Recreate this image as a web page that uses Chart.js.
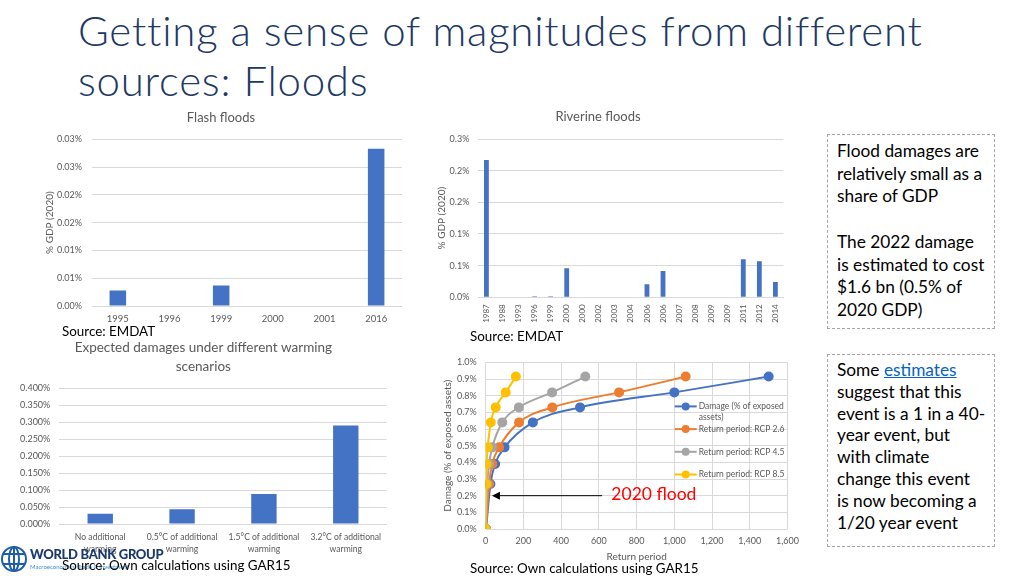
<!DOCTYPE html>
<html>
<head>
<meta charset="utf-8">
<script src="https://cdn.jsdelivr.net/npm/chart.js@4.4.0/dist/chart.umd.min.js"></script>
<style>
  body { margin: 0; background: #fff; }
  #slide { position: relative; width: 1024px; height: 576px; overflow: hidden; font-family: Lato, sans-serif; }
  canvas { position: absolute; }
  .title { position: absolute; left: 78px; top: 5px; font-size: 42px; line-height: 50px; font-weight: 300; letter-spacing: 0.75px; font-variant-ligatures: none; color: #203864; white-space: nowrap; }
  .src { position: absolute; font-size: 13.4px; color: #000; white-space: nowrap; line-height: 16px; }
  .box { position: absolute; left: 827px; width: 168px; border: 1px dashed #A6A6A6; font-size: 17.3px; color: #000; white-space: nowrap; box-sizing: border-box; padding-left: 9px; }
  .box a { color: #0563C1; text-decoration: underline; }
  .logo { position: absolute; left: 0; top: 543px; }
  .logo .wb { position: absolute; left: 30px; top: 3px; font-size: 13px; font-weight: 900; color: #1b3a6b; white-space: nowrap; letter-spacing: -0.3px; }
  .logo .sub { position: absolute; left: 30px; top: 20px; font-size: 6px; color: #3d8fd6; white-space: nowrap; }
</style>
</head>
<body>
<div id="slide">
  <div class="title">Getting a sense of magnitudes from different<br>sources: Floods</div>

  <canvas id="flash" width="362" height="228" style="left:40px; top:105px;"></canvas>
  <canvas id="riverine" width="388" height="222" style="left:404px; top:105px;"></canvas>
  <canvas id="scenario" width="372" height="220" style="left:20px; top:338px;"></canvas>
  <canvas id="returns" width="370" height="215" style="left:436px; top:348px;"></canvas>

  <div class="src" style="left:62px; top:323px;">Source: EMDAT</div>
  <div class="src" style="left:470px; top:328px;">Source: EMDAT</div>

  <div class="logo">
    <svg width="30" height="32" viewBox="0 0 30 32">
      <g fill="none" stroke="#1f5faa" stroke-width="2">
        <circle cx="14" cy="16" r="12"/>
        <ellipse cx="14" cy="16" rx="5" ry="12"/>
        <path d="M3 11 H25 M3 21 H25 M14 4 V28"/>
      </g>
    </svg>
    <div class="wb">WORLD BANK GROUP</div>
    <div class="sub">Macroeconomics, Trade &amp; Investment</div>
  </div>
  <div class="src" style="left:62px; top:557px;">Source: Own calculations using GAR15</div>
  <div class="src" style="left:470px; top:560px;">Source: Own calculations using GAR15</div>

  <div class="box" style="top:134px; height:195px; padding-top:5px; line-height:22.7px;">
    Flood damages are<br>relatively small as a<br>share of GDP<br><br>The 2022 damage<br>is estimated to cost<br>$1.6 bn (0.5% of<br>2020 GDP)
  </div>
  <div class="box" style="top:354px; height:193px; padding-top:4px; line-height:21.8px;">
    Some <a>estimates</a><br>suggest that this<br>event is a 1 in a 40-<br>year event, but<br>with climate<br>change this event<br>is now becoming a<br>1/20 year event
  </div>
</div>

<script>
// flash floods (EMDAT), % of 2020 GDP
const flashYears = ['1995', '1996', '1999', '2000', '2001', '2016'];
const flashDamage = [0.0028, 0, 0.0037, 0, 0, 0.0283];
const flashTicks = ['0.00%', '0.01%', '0.01%', '0.02%', '0.02%', '0.03%', '0.03%'];

// riverine floods (EMDAT), % of 2020 GDP
const riverineYears = ['1987', '1988', '1993', '1996', '1999', '2000', '2000', '2002', '2003', '2004',
  '2006', '2006', '2007', '2008', '2009', '2009', '2011', '2012', '2014'];
const riverineDamage = [0.217, 0, 0, 0.0015, 0.0015, 0.046, 0, 0, 0, 0,
  0.0205, 0.0415, 0, 0, 0, 0, 0.060, 0.057, 0.024];
const riverineTicks = ['0.0%', '0.1%', '0.1%', '0.2%', '0.2%', '0.3%'];

// expected damages by warming scenario, % of GDP
const scenarioLabels = [['No additional', 'warming'], ['0.5°C of additional', 'warming'],
  ['1.5°C of additional', 'warming'], ['3.2°C of additional', 'warming']];
const scenarioDamage = [0.0303, 0.0432, 0.0882, 0.290];

// damage (% of exposed assets) vs return period
const damageLevels = [0, 0.27, 0.39, 0.49, 0.64, 0.73, 0.82, 0.915];
const rpBase = [2, 25, 50, 100, 250, 500, 1000, 1500];
const rpRcp26 = [1, 18, 35, 71, 177, 353, 707, 1060];
const rpRcp45 = [1, 9, 18, 35, 88, 176, 352, 528];
const rpRcp85 = [0, 3, 5, 11, 27, 53, 106, 160];

const BLUE = '#4472C4';
const GRID = '#D9D9D9';
const TXT = '#595959';

Chart.defaults.font.family = 'Lato, sans-serif';
Chart.defaults.color = TXT;
Chart.defaults.animation = false;
Chart.defaults.responsive = false;
Chart.defaults.plugins.legend.display = false;
Chart.defaults.plugins.tooltip.enabled = false;

new Chart(document.getElementById('flash'), {
  type: 'bar',
  data: {
    labels: flashYears,
    datasets: [{ data: flashDamage, backgroundColor: BLUE, categoryPercentage: 1, barPercentage: 0.32 }]
  },
  options: {
    plugins: {
      title: { display: true, text: 'Flash floods', color: TXT, font: { size: 13, weight: 'normal' }, padding: { top: 5, bottom: 13.7 } }
    },
    scales: {
      x: {
        grid: { display: false, drawTicks: false },
        border: { color: GRID },
        ticks: { font: { size: 9.5 }, padding: 7, maxRotation: 0, autoSkip: false },
        afterFit: (s) => { s.height = 27; }
      },
      y: {
        min: 0, max: 0.03,
        ticks: { stepSize: 0.005, padding: 10, font: { size: 9 }, callback: (v, i) => flashTicks[i] },
        grid: { color: GRID, drawTicks: false },
        border: { display: false },
        title: { display: true, text: '% GDP (2020)', font: { size: 10 }, padding: { top: 4, bottom: 0 } },
        afterFit: (s) => { s.width = 52; }
      }
    }
  }
});

new Chart(document.getElementById('riverine'), {
  type: 'bar',
  data: {
    labels: riverineYears,
    datasets: [{ data: riverineDamage, backgroundColor: BLUE, categoryPercentage: 1, barPercentage: 0.3 }]
  },
  options: {
    plugins: {
      title: { display: true, text: 'Riverine floods', color: TXT, font: { size: 13, weight: 'normal' }, padding: { top: 4.2, bottom: 14.2 } }
    },
    scales: {
      x: {
        grid: { display: false, drawTicks: false },
        border: { color: GRID },
        ticks: { font: { size: 8 }, padding: 7, minRotation: 90, maxRotation: 90, autoSkip: false },
        afterFit: (s) => { s.height = 29.7; }
      },
      y: {
        min: 0, max: 0.25,
        ticks: { stepSize: 0.05, padding: 9, font: { size: 9 }, callback: (v, i) => riverineTicks[i] },
        grid: { color: GRID, drawTicks: false },
        border: { display: false },
        title: { display: true, text: '% GDP (2020)', font: { size: 10 }, padding: { top: 32, bottom: 0 } },
        afterFit: (s) => { s.width = 74.4; }
      }
    }
  }
});

new Chart(document.getElementById('scenario'), {
  type: 'bar',
  data: {
    labels: scenarioLabels,
    datasets: [{ data: scenarioDamage, backgroundColor: BLUE, categoryPercentage: 1, barPercentage: 0.31 }]
  },
  options: {
    layout: { padding: { right: 5.3 } },
    plugins: {
      title: {
        display: true, text: ['Expected damages under different warming', 'scenarios'], color: TXT,
        font: { size: 13.5, weight: 'normal', lineHeight: 1.4 }, padding: { top: 0.5, bottom: 11.7 }
      }
    },
    scales: {
      x: {
        grid: { display: false, drawTicks: false },
        border: { color: GRID },
        ticks: { font: { size: 8.6, lineHeight: 1.4 }, padding: 7, maxRotation: 0, autoSkip: false },
        afterFit: (s) => { s.height = 34; }
      },
      y: {
        min: 0, max: 0.4,
        ticks: { stepSize: 0.05, padding: 9, font: { size: 9 }, callback: (v) => v.toFixed(3) + '%' },
        grid: { color: GRID, drawTicks: false },
        border: { display: false },
        afterFit: (s) => { s.width = 39.3; }
      }
    }
  }
});

function wrapText(ctx, text, maxWidth) {
  const words = text.split(' ');
  const lines = [];
  let line = '';
  words.forEach((w) => {
    const test = line ? line + ' ' + w : w;
    if (ctx.measureText(test).width > maxWidth && line) {
      lines.push(line);
      line = w;
    } else {
      line = test;
    }
  });
  lines.push(line);
  return lines;
}

const floodNote = {
  id: 'floodNote',
  afterDatasetsDraw(chart) {
    const { ctx, scales: { x, y } } = chart;
    const py = y.getPixelForValue(0.2);
    const xStart = x.getPixelForValue(617);
    const xEnd = x.getPixelForValue(33);
    ctx.save();
    ctx.strokeStyle = '#000';
    ctx.fillStyle = '#000';
    ctx.lineWidth = 1;
    ctx.beginPath();
    ctx.moveTo(xStart, py);
    ctx.lineTo(xEnd + 6, py);
    ctx.stroke();
    ctx.beginPath();
    ctx.moveTo(xEnd, py);
    ctx.lineTo(xEnd + 8, py - 4);
    ctx.lineTo(xEnd + 8, py + 4);
    ctx.closePath();
    ctx.fill();
    ctx.fillStyle = '#FF0000';
    ctx.font = '17.5px Lato, sans-serif';
    ctx.textBaseline = 'middle';
    ctx.fillText('2020 flood', x.getPixelForValue(666), py - 1);
    ctx.restore();
  }
};

const lineLegend = {
  id: 'lineLegend',
  afterDraw(chart) {
    const { ctx, chartArea } = chart;
    ctx.save();
    ctx.font = '8.5px Lato, sans-serif';
    ctx.textBaseline = 'middle';
    let y = chartArea.top + 44;
    const x0 = chartArea.left + 189;
    chart.data.datasets.forEach((ds) => {
      ctx.strokeStyle = ds.borderColor;
      ctx.lineWidth = 2;
      ctx.beginPath();
      ctx.moveTo(x0, y);
      ctx.lineTo(x0 + 22, y);
      ctx.stroke();
      ctx.fillStyle = ds.borderColor;
      ctx.beginPath();
      ctx.arc(x0 + 11, y, 4, 0, Math.PI * 2);
      ctx.fill();
      ctx.fillStyle = TXT;
      wrapText(ctx, ds.label, 93).forEach((t, k) => ctx.fillText(t, x0 + 24, y + k * 10.7));
      y += 22.7;
    });
    ctx.restore();
  }
};

// later series sit on top, as in the original
function series(label, xs, color, order) {
  return {
    label,
    data: xs.map((x, i) => ({ x, y: damageLevels[i] })),
    showLine: true,
    borderColor: color,
    backgroundColor: color,
    borderWidth: 2,
    pointRadius: 4,
    cubicInterpolationMode: 'monotone',
    order
  };
}

new Chart(document.getElementById('returns'), {
  type: 'scatter',
  data: {
    datasets: [
      series('Damage (% of exposed assets)', rpBase, '#4472C4', 3),
      series('Return period: RCP 2.6', rpRcp26, '#ED7D31', 2),
      series('Return period: RCP 4.5', rpRcp45, '#A5A5A5', 1),
      series('Return period: RCP 8.5', rpRcp85, '#FFC000', 0)
    ]
  },
  options: {
    layout: { padding: { top: 9.7, right: 11 } },
    scales: {
      x: {
        min: 0, max: 1600,
        ticks: { stepSize: 200, padding: 7, font: { size: 9 }, maxRotation: 0, callback: (v) => v.toLocaleString('en-US') },
        grid: { color: GRID, drawTicks: false },
        border: { display: false },
        title: { display: true, text: 'Return period', font: { size: 10 }, padding: { top: 0, bottom: 0 } },
        afterFit: (s) => { s.height = 34; }
      },
      y: {
        min: 0, max: 1.0,
        ticks: { stepSize: 0.1, padding: 9, font: { size: 9 }, callback: (v) => v.toFixed(1) + '%' },
        grid: { color: GRID, drawTicks: false },
        border: { display: false },
        title: { display: true, text: 'Damage (% of exposed assets)', font: { size: 10 }, padding: { top: 6, bottom: 0 } },
        afterFit: (s) => { s.width = 49.7; }
      }
    }
  },
  plugins: [floodNote, lineLegend]
});
</script>
</body>
</html>
